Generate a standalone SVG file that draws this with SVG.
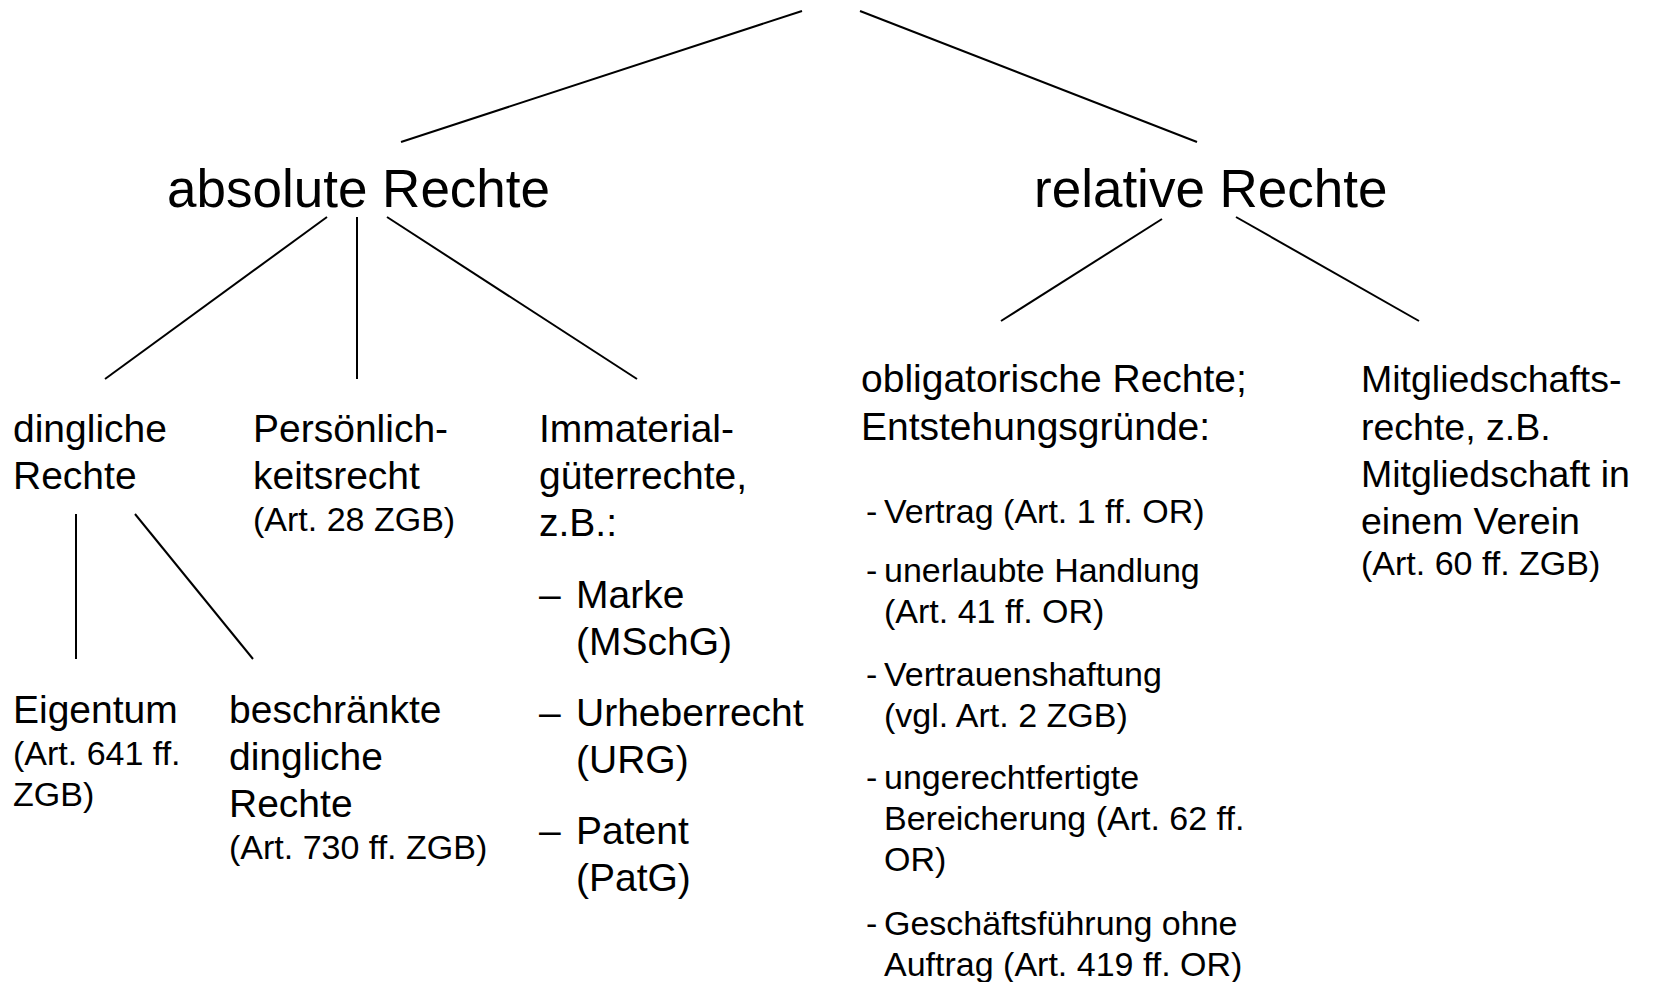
<svg xmlns="http://www.w3.org/2000/svg" width="1654" height="982" viewBox="0 0 1654 982">
<style>
text{font-family:"Liberation Sans",Arial,sans-serif;fill:#000}
.h{font-size:53px}
.m{font-size:39px}
.mm{font-size:37.5px}
.s{font-size:34px}
.c line{stroke:#000;stroke-width:2;stroke-linecap:butt}
</style>
<rect width="1654" height="982" fill="#fff"/>
<g class="c" id="connectors">
<line x1="802" y1="11" x2="401" y2="142"/>
<line x1="860" y1="11" x2="1197" y2="142"/>
<line x1="327" y1="217" x2="105" y2="379"/>
<line x1="357" y1="217" x2="357" y2="379"/>
<line x1="387" y1="217" x2="637" y2="379"/>
<line x1="1162" y1="219" x2="1001" y2="321"/>
<line x1="1236" y1="217" x2="1419" y2="321"/>
<line x1="76" y1="514" x2="76" y2="659"/>
<line x1="135" y1="514" x2="253" y2="659"/>
</g>
<g id="absolute"><text class="h" x="167" y="207">absolute Rechte</text></g>
<g id="relative"><text class="h" x="1034" y="207">relative Rechte</text></g>
<g id="dingliche"><text class="m" x="13" y="442">dingliche</text><text class="m" x="13" y="489">Rechte</text></g>
<g id="persoenlichkeit"><text class="m" x="253" y="442">Persönlich-</text><text class="m" x="253" y="489">keitsrecht</text><text class="s" x="253" y="531">(Art. 28 ZGB)</text></g>
<g id="immaterial"><text class="m" x="539" y="442">Immaterial-</text><text class="m" x="539" y="489">güterrechte,</text><text class="m" x="539" y="536">z.B.:</text>
<text class="m" x="539" y="608">–</text><text class="m" x="576" y="608">Marke</text><text class="m" x="576" y="655">(MSchG)</text>
<text class="m" x="539" y="726">–</text><text class="m" x="576" y="726">Urheberrecht</text><text class="m" x="576" y="773">(URG)</text>
<text class="m" x="539" y="844">–</text><text class="m" x="576" y="844">Patent</text><text class="m" x="576" y="891">(PatG)</text></g>
<g id="eigentum"><text class="m" x="13" y="723">Eigentum</text><text class="s" x="13" y="765">(Art. 641 ff.</text><text class="s" x="13" y="806">ZGB)</text></g>
<g id="beschraenkte"><text class="m" x="229" y="723">beschränkte</text><text class="m" x="229" y="770">dingliche</text><text class="m" x="229" y="817">Rechte</text><text class="s" x="229" y="859">(Art. 730 ff. ZGB)</text></g>
<g id="obligatorische"><text class="m" x="861" y="392">obligatorische Rechte;</text><text class="m" x="861" y="440">Entstehungsgründe:</text>
<text class="s" x="866" y="523">-</text><text class="s" x="884" y="523">Vertrag (Art. 1 ff. OR)</text>
<text class="s" x="866" y="582">-</text><text class="s" x="884" y="582">unerlaubte Handlung</text><text class="s" x="884" y="623">(Art. 41 ff. OR)</text>
<text class="s" x="866" y="686">-</text><text class="s" x="884" y="686">Vertrauenshaftung</text><text class="s" x="884" y="727">(vgl. Art. 2 ZGB)</text>
<text class="s" x="866" y="789">-</text><text class="s" x="884" y="789">ungerechtfertigte</text><text class="s" x="884" y="830">Bereicherung (Art. 62 ff.</text><text class="s" x="884" y="871">OR)</text>
<text class="s" x="866" y="935">-</text><text class="s" x="884" y="935">Geschäftsführung ohne</text><text class="s" x="884" y="976">Auftrag (Art. 419 ff. OR)</text></g>
<g id="mitglied"><text class="mm" x="1361" y="392">Mitgliedschafts-</text><text class="mm" x="1361" y="440">rechte, z.B.</text><text class="mm" x="1361" y="487">Mitgliedschaft in</text><text class="mm" x="1361" y="534">einem Verein</text><text class="s" x="1361" y="575">(Art. 60 ff. ZGB)</text></g>
</svg>
